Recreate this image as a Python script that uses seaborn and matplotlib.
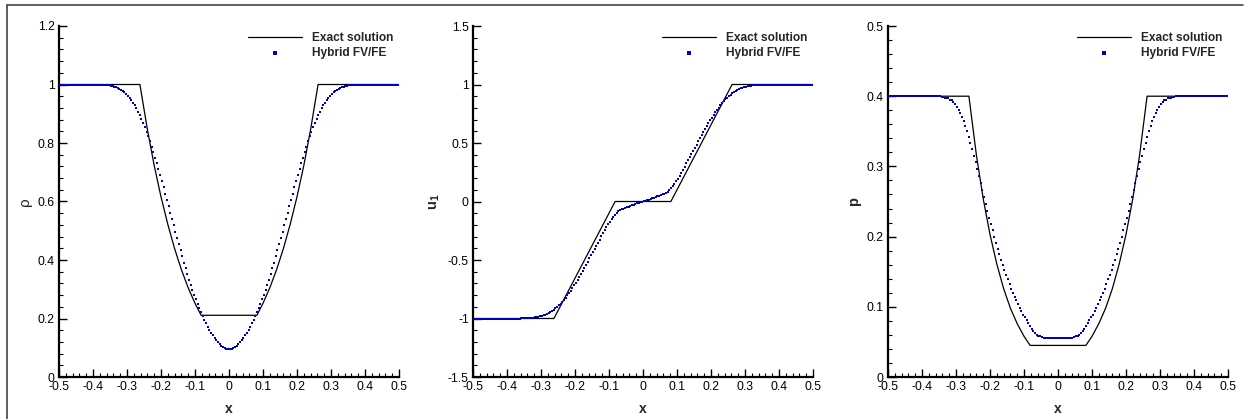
import numpy as np
import pandas as pd
import matplotlib
matplotlib.use("Agg")
import matplotlib.pyplot as plt
from matplotlib.lines import Line2D
from matplotlib.ticker import MultipleLocator
import seaborn as sns

# ---------------- data ----------------
# cell centres of the numerical solution (200 uniform cells on [-0.5, 0.5])
x_num = np.linspace(-0.4975, 0.4975, 200)

rho_num = [
    1.000, 1.000, 1.000, 1.000, 1.000, 1.000, 1.000, 1.000, 1.000, 1.000,
    1.000, 1.000, 1.000, 1.000, 1.000, 1.000, 1.000, 1.000, 1.000, 1.000,
    1.000, 1.000, 1.000, 1.000, 1.000, 0.999, 0.999, 0.998, 0.998, 0.997,
    0.996, 0.995, 0.993, 0.991, 0.989, 0.986, 0.982, 0.978, 0.973, 0.968,
    0.962, 0.955, 0.947, 0.938, 0.929, 0.918, 0.907, 0.895, 0.882, 0.869,
    0.854, 0.839, 0.823, 0.806, 0.788, 0.769, 0.750, 0.731, 0.711, 0.690,
    0.670, 0.649, 0.627, 0.606, 0.584, 0.562, 0.540, 0.518, 0.496, 0.475,
    0.454, 0.433, 0.412, 0.391, 0.371, 0.352, 0.333, 0.315, 0.298, 0.281,
    0.265, 0.250, 0.235, 0.221, 0.208, 0.195, 0.183, 0.172, 0.161, 0.151,
    0.142, 0.133, 0.125, 0.118, 0.112, 0.107, 0.102, 0.099, 0.096, 0.095,
    0.095, 0.096, 0.099, 0.102, 0.107, 0.112, 0.118, 0.125, 0.133, 0.142,
    0.151, 0.161, 0.172, 0.183, 0.195, 0.208, 0.221, 0.235, 0.250, 0.265,
    0.281, 0.298, 0.315, 0.333, 0.352, 0.371, 0.391, 0.412, 0.433, 0.454,
    0.475, 0.496, 0.518, 0.540, 0.562, 0.584, 0.606, 0.627, 0.649, 0.670,
    0.690, 0.711, 0.731, 0.750, 0.769, 0.788, 0.806, 0.823, 0.839, 0.854,
    0.869, 0.882, 0.895, 0.907, 0.918, 0.929, 0.938, 0.947, 0.955, 0.962,
    0.968, 0.973, 0.978, 0.982, 0.986, 0.989, 0.991, 0.993, 0.995, 0.996,
    0.997, 0.998, 0.998, 0.999, 0.999, 1.000, 1.000, 1.000, 1.000, 1.000,
    1.000, 1.000, 1.000, 1.000, 1.000, 1.000, 1.000, 1.000, 1.000, 1.000,
    1.000, 1.000, 1.000, 1.000, 1.000, 1.000, 1.000, 1.000, 1.000, 1.000,
]

u_num = [
    -1.000, -1.000, -1.000, -1.000, -1.000, -1.000, -1.000, -1.000, -1.000, -1.000,
    -1.000, -1.000, -1.000, -1.000, -1.000, -1.000, -1.000, -1.000, -1.000, -1.000,
    -1.000, -1.000, -1.000, -1.000, -1.000, -1.000, -1.000, -1.000, -0.999, -0.999,
    -0.998, -0.998, -0.997, -0.996, -0.995, -0.993, -0.991, -0.989, -0.986, -0.982,
    -0.978, -0.973, -0.967, -0.960, -0.953, -0.944, -0.935, -0.924, -0.913, -0.900,
    -0.887, -0.872, -0.857, -0.840, -0.822, -0.803, -0.783, -0.762, -0.740, -0.717,
    -0.694, -0.670, -0.645, -0.619, -0.593, -0.567, -0.540, -0.514, -0.487, -0.460,
    -0.433, -0.406, -0.379, -0.352, -0.325, -0.298, -0.271, -0.245, -0.220, -0.195,
    -0.172, -0.150, -0.130, -0.113, -0.098, -0.085, -0.076, -0.068, -0.061, -0.055,
    -0.050, -0.044, -0.039, -0.033, -0.027, -0.021, -0.015, -0.009, -0.003, -0.003,
    0.003, 0.003, 0.009, 0.015, 0.021, 0.027, 0.033, 0.039, 0.044, 0.050,
    0.055, 0.061, 0.068, 0.076, 0.085, 0.098, 0.113, 0.130, 0.150, 0.172,
    0.195, 0.220, 0.245, 0.271, 0.298, 0.325, 0.352, 0.379, 0.406, 0.433,
    0.460, 0.487, 0.514, 0.540, 0.567, 0.593, 0.619, 0.645, 0.670, 0.694,
    0.717, 0.740, 0.762, 0.783, 0.803, 0.822, 0.840, 0.857, 0.872, 0.887,
    0.900, 0.913, 0.924, 0.935, 0.944, 0.953, 0.960, 0.967, 0.973, 0.978,
    0.982, 0.986, 0.989, 0.991, 0.993, 0.995, 0.996, 0.997, 0.998, 0.998,
    0.999, 0.999, 1.000, 1.000, 1.000, 1.000, 1.000, 1.000, 1.000, 1.000,
    1.000, 1.000, 1.000, 1.000, 1.000, 1.000, 1.000, 1.000, 1.000, 1.000,
    1.000, 1.000, 1.000, 1.000, 1.000, 1.000, 1.000, 1.000, 1.000, 1.000,
]

p_num = [
    0.400, 0.400, 0.400, 0.400, 0.400, 0.400, 0.400, 0.400, 0.400, 0.400,
    0.400, 0.400, 0.400, 0.400, 0.400, 0.400, 0.400, 0.400, 0.400, 0.400,
    0.400, 0.400, 0.400, 0.400, 0.400, 0.400, 0.400, 0.400, 0.400, 0.400,
    0.400, 0.399, 0.399, 0.398, 0.397, 0.397, 0.395, 0.394, 0.392, 0.389,
    0.385, 0.381, 0.376, 0.371, 0.365, 0.358, 0.350, 0.342, 0.334, 0.325,
    0.315, 0.306, 0.296, 0.286, 0.276, 0.266, 0.256, 0.246, 0.236, 0.227,
    0.218, 0.209, 0.200, 0.191, 0.183, 0.175, 0.167, 0.160, 0.153, 0.146,
    0.139, 0.132, 0.126, 0.120, 0.114, 0.109, 0.104, 0.099, 0.094, 0.089,
    0.085, 0.081, 0.077, 0.073, 0.069, 0.066, 0.063, 0.060, 0.058, 0.058,
    0.057, 0.056, 0.056, 0.055, 0.055, 0.055, 0.055, 0.055, 0.055, 0.055,
    0.055, 0.055, 0.055, 0.055, 0.055, 0.055, 0.055, 0.056, 0.056, 0.057,
    0.058, 0.058, 0.060, 0.063, 0.066, 0.069, 0.073, 0.077, 0.081, 0.085,
    0.089, 0.094, 0.099, 0.104, 0.109, 0.114, 0.120, 0.126, 0.132, 0.139,
    0.146, 0.153, 0.160, 0.167, 0.175, 0.183, 0.191, 0.200, 0.209, 0.218,
    0.227, 0.236, 0.246, 0.256, 0.266, 0.276, 0.286, 0.296, 0.306, 0.315,
    0.325, 0.334, 0.342, 0.350, 0.358, 0.365, 0.371, 0.376, 0.381, 0.385,
    0.389, 0.392, 0.394, 0.395, 0.397, 0.397, 0.398, 0.399, 0.399, 0.400,
    0.400, 0.400, 0.400, 0.400, 0.400, 0.400, 0.400, 0.400, 0.400, 0.400,
    0.400, 0.400, 0.400, 0.400, 0.400, 0.400, 0.400, 0.400, 0.400, 0.400,
    0.400, 0.400, 0.400, 0.400, 0.400, 0.400, 0.400, 0.400, 0.400, 0.400,
]

# exact solution (double rarefaction)
x_ex = [-0.5, -0.262, -0.24, -0.22, -0.20, -0.18, -0.16, -0.14, -0.12, -0.10, -0.082,
        0.082, 0.10, 0.12, 0.14, 0.16, 0.18, 0.20, 0.22, 0.24, 0.262, 0.5]
rho_ex = [1.0, 1.0, 0.846, 0.723, 0.616, 0.522, 0.439, 0.367, 0.305, 0.252, 0.211,
          0.211, 0.252, 0.305, 0.367, 0.439, 0.522, 0.616, 0.723, 0.846, 1.0, 1.0]
p_ex = [0.4, 0.4, 0.316, 0.254, 0.203, 0.161, 0.126, 0.098, 0.076, 0.058, 0.045,
        0.045, 0.058, 0.076, 0.098, 0.126, 0.161, 0.203, 0.254, 0.316, 0.4, 0.4]
x_ex_u = [-0.5, -0.262, -0.082, 0.082, 0.262, 0.5]
u_ex = [-1.0, -1.0, 0.0, 0.0, 1.0, 1.0]

legend_labels = ["Exact solution", "Hybrid FV/FE"]
x_ticks = [-0.5, -0.4, -0.3, -0.2, -0.1, 0, 0.1, 0.2, 0.3, 0.4, 0.5]
x_tick_labels = ["-0.5", "-0.4", "-0.3", "-0.2", "-0.1", "0", "0.1", "0.2", "0.3", "0.4", "0.5"]

panels = [
    dict(ex_x=x_ex, ex_y=rho_ex, num_y=rho_num, ylim=(0, 1.2), major=0.2, minor=0.04,
         yticks=["0", "0.2", "0.4", "0.6", "0.8", "1", "1.2"], ylabel="ρ", bold=False),
    dict(ex_x=x_ex_u, ex_y=u_ex, num_y=u_num, ylim=(-1.5, 1.5), major=0.5, minor=0.1,
         yticks=["-1.5", "-1", "-0.5", "0", "0.5", "1", "1.5"], ylabel=r"$\mathbf{u_1}$", bold=True),
    dict(ex_x=x_ex, ex_y=p_ex, num_y=p_num, ylim=(0, 0.5), major=0.1, minor=0.02,
         yticks=["0", "0.1", "0.2", "0.3", "0.4", "0.5"], ylabel="p", bold=True),
]

# ---------------- style ----------------
sns.set_style("ticks")
plt.rcParams["font.family"] = ["Liberation Sans", "DejaVu Sans"]
plt.rcParams["mathtext.fontset"] = "custom"
plt.rcParams["mathtext.bf"] = "Liberation Sans:bold"
plt.rcParams["mathtext.rm"] = "Liberation Sans"

W, H = 1247, 419
fig = plt.figure(figsize=(W / 100, H / 100), dpi=100)

lefts = [59, 473, 888]
ax_w = 340
ax_top, ax_bot = 26, 377
dot_color = "#0000BE"

for left, pn in zip(lefts, panels):
    ax = fig.add_axes([left / W, 1 - ax_bot / H, ax_w / W, (ax_bot - ax_top) / H])
    df_ex = pd.DataFrame({"x": pn["ex_x"], "y": pn["ex_y"]})
    df_num = pd.DataFrame({"x": x_num, "y": pn["num_y"]})
    sns.lineplot(data=df_ex, x="x", y="y", ax=ax, color="black", linewidth=0.9,
                 sort=False, estimator=None, label=legend_labels[0], zorder=2)
    sns.scatterplot(data=df_num, x="x", y="y", ax=ax, color=dot_color, marker="s",
                    s=4.2, linewidth=0, label=legend_labels[1], zorder=3)

    ax.set_xlim(-0.5, 0.5)
    ax.set_ylim(*pn["ylim"])
    ax.set_xticks(x_ticks)
    ax.set_xticklabels(x_tick_labels)
    lo, hi = pn["ylim"]
    yt = [lo + i * pn["major"] for i in range(len(pn["yticks"]))]
    ax.set_yticks(yt)
    ax.set_yticklabels(pn["yticks"])
    ax.xaxis.set_minor_locator(MultipleLocator(0.02))
    ax.yaxis.set_minor_locator(MultipleLocator(pn["minor"]))

    for s in ["top", "right"]:
        ax.spines[s].set_visible(False)
    for s in ["left", "bottom"]:
        ax.spines[s].set_linewidth(1.6)
        ax.spines[s].set_color("black")
    ax.tick_params(which="major", direction="in", length=5.5, width=1.0,
                   labelsize=8.8, pad=3, colors="black")
    ax.tick_params(which="minor", direction="in", length=3.0, width=0.8, colors="black")

    ax.set_xlabel("x", fontsize=10, fontweight="bold", labelpad=6)
    if pn["bold"]:
        ax.set_ylabel(pn["ylabel"], fontsize=10.5, fontweight="bold", labelpad=4)
    else:
        ax.set_ylabel(pn["ylabel"], fontsize=11, labelpad=4)

    ax.legend(loc="upper right", frameon=False, handlelength=4.5,
              handletextpad=0.8, labelspacing=0.25, borderaxespad=0.1,
              markerscale=1.4, prop={"weight": "bold", "size": 8.6})

# figure border (top and left edges)
fig.add_artist(Line2D([7 / W, 1243 / W], [1 - 5 / H, 1 - 5 / H], color="#444444", linewidth=1.2))
fig.add_artist(Line2D([7 / W, 7 / W], [1 - 5 / H, 0], color="#444444", linewidth=1.2))

fig.savefig("out.png", dpi=100)
